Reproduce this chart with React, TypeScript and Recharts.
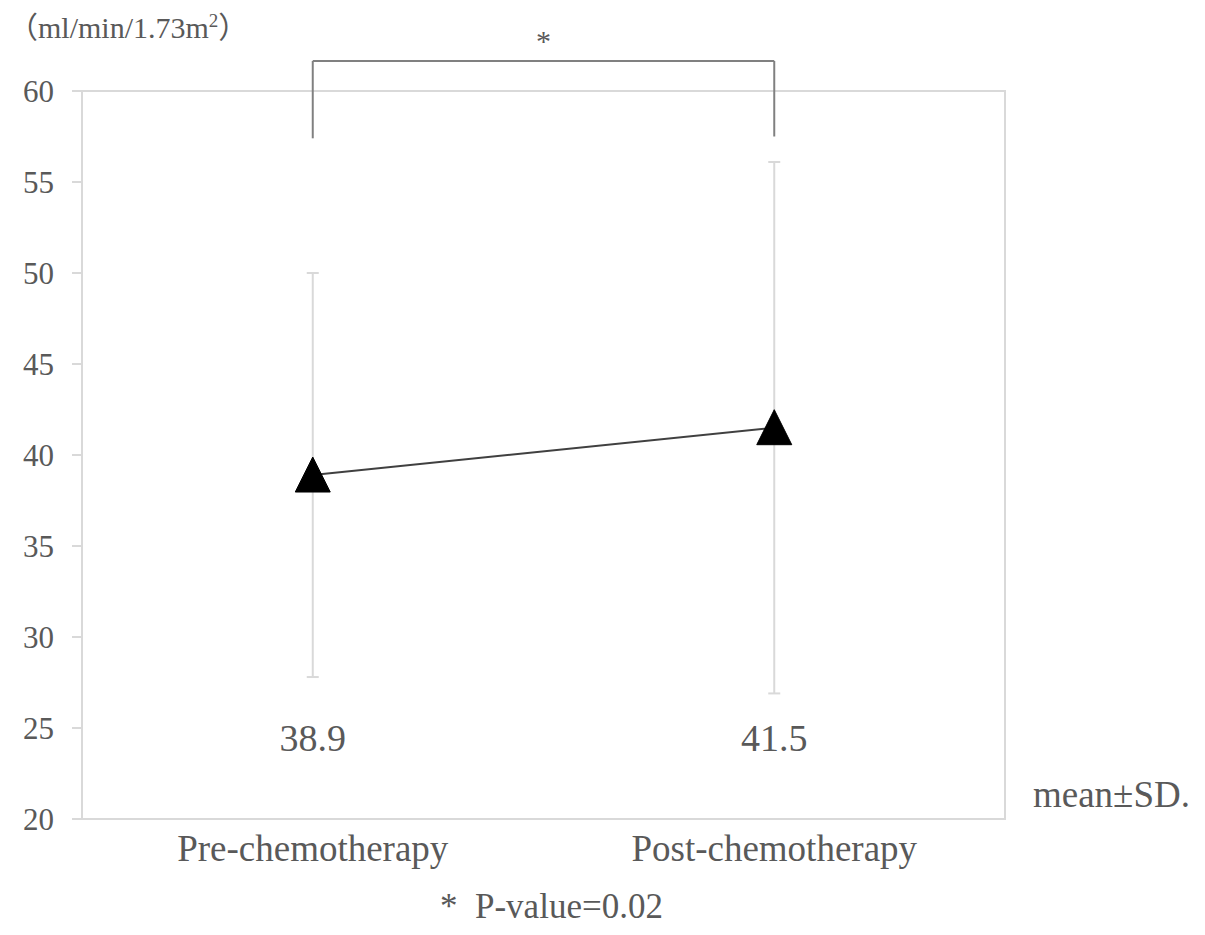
import React from 'react'
import {
  ComposedChart,
  Line,
  XAxis,
  YAxis,
  ErrorBar,
  ReferenceLine,
  ReferenceDot,
  ReferenceArea,
} from 'recharts'

const categories = ['Pre-chemotherapy', 'Post-chemotherapy']
const means = [38.9, 41.5]
const sds = [11.1, 14.6]
const yTicks = [20, 25, 30, 35, 40, 45, 50, 55, 60]

const data = categories.map((name, i) => ({ name, mean: means[i], sd: sds[i] }))

// bracket for the significance mark
const bracketTop = 61.65
const bracketFoot = [57.4, 57.5]
const valueLabelY = 24.5

const FONT = '"Liberation Serif", "Times New Roman", "Noto Sans CJK JP", serif'
const TEXT = '#595959'
const AXIS = '#d9d9d9'

const Triangle = (props: any) => {
  const { cx, cy, index } = props
  if (cx == null || cy == null) return null
  const d = `M${cx},${cy - 18} L${cx + 17.5},${cy + 17} L${cx - 17.5},${cy + 17} Z`
  return <path key={`tri-${index}`} d={d} fill="#000" stroke="#000" strokeWidth={1} />
}

export default function App() {
  return (
    <div style={{ position: 'absolute', left: 0, top: 0, width: 1205, height: 935, background: '#fff' }}>
      <ComposedChart
        width={1205}
        height={935}
        data={data}
        margin={{ top: 91, right: 200, bottom: 56, left: 0 }}
      >
        <XAxis
          dataKey="name"
          scale="band"
          height={60}
          interval={0}
          tickLine={false}
          tickSize={0}
          tickMargin={16}
          axisLine={{ stroke: AXIS, strokeWidth: 2 }}
          tick={{ fill: TEXT, fontSize: 37, fontFamily: FONT }}
        />
        <YAxis
          width={82}
          domain={[20, 60]}
          ticks={yTicks}
          interval={0}
          tickSize={10}
          tickMargin={18}
          axisLine={{ stroke: AXIS, strokeWidth: 2 }}
          tickLine={{ stroke: AXIS, strokeWidth: 2 }}
          tick={{ fill: TEXT, fontSize: 31, fontFamily: FONT }}
        />
        {/* plot frame */}
        <ReferenceArea y1={20} y2={60} fill="none" stroke={AXIS} strokeWidth={2} ifOverflow="visible" />
        <ReferenceLine
          segment={[{ x: categories[0], y: bracketFoot[0] }, { x: categories[0], y: bracketTop }]}
          stroke="#808080"
          strokeWidth={2}
          ifOverflow="visible"
        />
        <ReferenceLine
          segment={[{ x: categories[0], y: bracketTop }, { x: categories[1], y: bracketTop }]}
          stroke="#808080"
          strokeWidth={2}
          ifOverflow="visible"
          label={{ value: '*', position: 'top', offset: 10, fill: TEXT, fontSize: 30, fontFamily: FONT }}
        />
        <ReferenceLine
          segment={[{ x: categories[1], y: bracketTop }, { x: categories[1], y: bracketFoot[1] }]}
          stroke="#808080"
          strokeWidth={2}
          ifOverflow="visible"
        />
        {data.map((d) => (
          <ReferenceDot
            key={d.name}
            x={d.name}
            y={valueLabelY}
            r={0}
            fill="none"
            stroke="none"
            label={{ value: d.mean.toFixed(1), position: 'center', fill: TEXT, fontSize: 38, fontFamily: FONT }}
          />
        ))}
        <Line
          dataKey="mean"
          type="linear"
          stroke="#404040"
          strokeWidth={2}
          dot={Triangle}
          activeDot={false}
          isAnimationActive={false}
        >
          <ErrorBar dataKey="sd" direction="y" width={6} stroke={AXIS} strokeWidth={2} />
        </Line>
      </ComposedChart>
      <div style={{ position: 'absolute', left: 8, top: 8, fontFamily: FONT, fontSize: 30, color: TEXT, lineHeight: '40px', whiteSpace: 'nowrap' }}>
        （ml/min/1.73m<sup style={{ fontSize: 19, lineHeight: 0 }}>2</sup>）
      </div>
      <div style={{ position: 'absolute', left: 1033, top: 774, fontFamily: FONT, fontSize: 37, color: TEXT, lineHeight: '42px', whiteSpace: 'nowrap' }}>
        mean±SD.
      </div>
      <div style={{ position: 'absolute', left: 440, top: 886, fontFamily: FONT, fontSize: 35, color: TEXT, lineHeight: '42px', whiteSpace: 'nowrap' }}>
        *&nbsp;&nbsp;P-value=0.02
      </div>
    </div>
  )
}
